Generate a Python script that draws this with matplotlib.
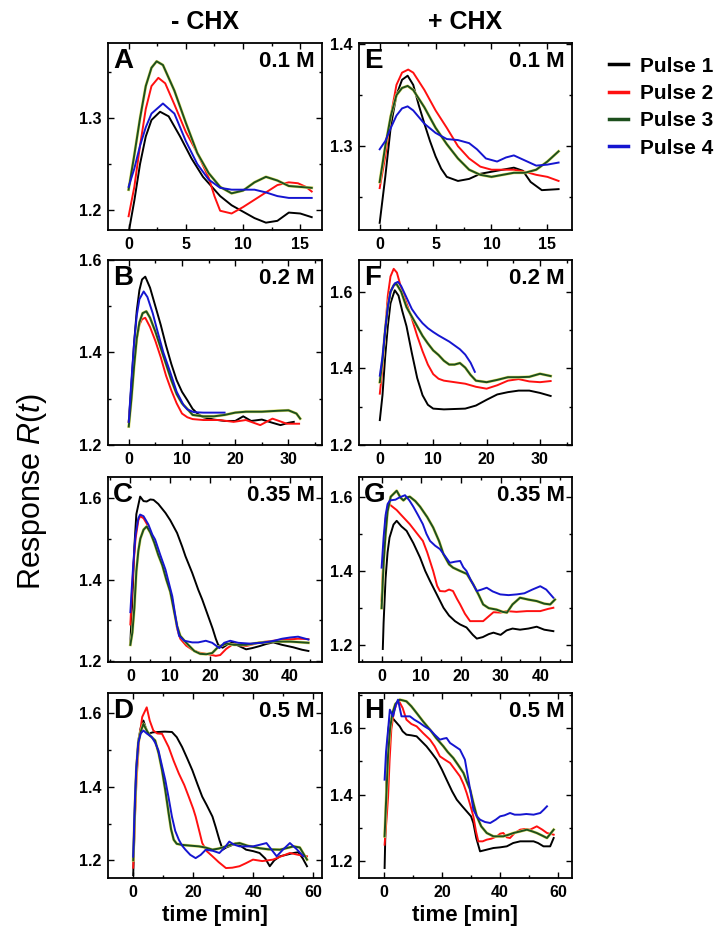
import matplotlib.pyplot as plt
import matplotlib.patheffects as pe
from matplotlib.ticker import AutoMinorLocator

plt.rcParams['font.family'] = ['Liberation Sans', 'DejaVu Sans']
plt.rcParams['mathtext.fontset'] = 'custom'
plt.rcParams['mathtext.it'] = 'Liberation Sans:italic'
plt.rcParams['mathtext.rm'] = 'Liberation Sans'

PULSES = ['Pulse 1', 'Pulse 2', 'Pulse 3', 'Pulse 4']
COLORS = ['#000000', '#ff1010', '#1d4f1d', '#1515d0']

# (time [min], response) per pulse, -CHX column
A_P1 = [(0, 1.175), (0.5, 1.21), (1, 1.25), (1.5, 1.28), (2, 1.298), (2.75, 1.307), (3.5, 1.302), (4.5, 1.28),
        (5.5, 1.256), (6.5, 1.236), (8, 1.215), (9, 1.205), (10, 1.198), (11, 1.191), (12, 1.186), (13, 1.188),
        (14, 1.197), (15, 1.196), (16, 1.192)]
A_P2 = [(0, 1.193), (0.5, 1.225), (1, 1.27), (1.5, 1.31), (2, 1.335), (2.6, 1.344), (3.2, 1.338), (4, 1.315),
        (5, 1.285), (6, 1.262), (7, 1.235), (7.5, 1.215), (8, 1.199), (9, 1.196), (10, 1.203), (11, 1.211),
        (12, 1.219), (13, 1.227), (14, 1.23), (14.8, 1.229), (15.5, 1.225), (16, 1.22)]
A_P3 = [(0, 1.222), (0.5, 1.26), (1, 1.3), (1.5, 1.335), (2, 1.355), (2.45, 1.362), (3, 1.358), (4, 1.33),
        (5, 1.295), (6, 1.262), (7, 1.24), (8, 1.225), (9, 1.218), (10, 1.221), (11, 1.23), (12, 1.236),
        (13, 1.232), (14, 1.226), (15, 1.225), (16, 1.224)]
A_P4 = [(0, 1.225), (0.5, 1.245), (1, 1.27), (1.5, 1.29), (2, 1.305), (3, 1.316), (4, 1.305), (5, 1.275),
        (6, 1.25), (7, 1.233), (8, 1.224), (9, 1.222), (10, 1.222), (11, 1.222), (12, 1.219), (13, 1.215),
        (14, 1.213), (16, 1.213)]

B_P1 = [(0, 1.25), (0.5, 1.33), (1, 1.42), (1.5, 1.49), (2, 1.535), (2.5, 1.558), (3.1, 1.564), (4, 1.54),
        (5, 1.5), (6, 1.46), (7, 1.415), (8, 1.375), (9, 1.34), (10, 1.315), (11, 1.297), (12, 1.278),
        (13, 1.267), (14, 1.26), (16, 1.255), (18, 1.252), (20, 1.252), (21.5, 1.262), (23, 1.252),
        (25, 1.255), (27, 1.248), (28.5, 1.243), (30, 1.248), (31, 1.25)]
B_P2 = [(0, 1.25), (0.5, 1.31), (1, 1.38), (1.5, 1.43), (2, 1.46), (2.5, 1.472), (3.1, 1.475), (4, 1.455),
        (5, 1.425), (6, 1.39), (7, 1.35), (8, 1.318), (9, 1.29), (10, 1.268), (11, 1.26), (12, 1.256),
        (14, 1.254), (17, 1.254), (19.7, 1.25), (22, 1.254), (24.7, 1.243), (27, 1.257), (29.7, 1.246),
        (32, 1.246)]
B_P3 = [(0, 1.24), (0.5, 1.3), (1, 1.37), (1.5, 1.43), (2, 1.465), (2.6, 1.485), (3.3, 1.489), (4, 1.475),
        (5, 1.445), (6, 1.41), (7, 1.375), (8, 1.34), (9, 1.31), (10, 1.29), (11, 1.278), (12, 1.265),
        (14, 1.262), (16, 1.262), (18, 1.265), (20, 1.27), (22, 1.272), (25, 1.272), (28, 1.274), (30, 1.275),
        (31.5, 1.268), (32.2, 1.257)]
B_P4 = [(0, 1.25), (0.5, 1.34), (1, 1.42), (1.5, 1.48), (2, 1.515), (2.8, 1.532), (3.5, 1.52), (4.5, 1.485),
        (5.3, 1.45), (6.5, 1.4), (7.8, 1.357), (9, 1.315), (10.3, 1.286), (11, 1.277), (12.2, 1.271),
        (14, 1.27), (16, 1.27), (18, 1.27)]

C_P1 = [(0, 1.245), (0.5, 1.35), (1, 1.48), (1.5, 1.56), (2.45, 1.603), (3.3, 1.592), (4.1, 1.591), (5, 1.596),
        (5.8, 1.595), (7, 1.585), (8.8, 1.563), (10, 1.545), (11.7, 1.514), (13, 1.48), (13.8, 1.457),
        (15.5, 1.416), (17, 1.375), (18, 1.351), (19.5, 1.31), (20.6, 1.28), (21.4, 1.255), (22, 1.24),
        (23.1, 1.233), (24.5, 1.242), (25.6, 1.246), (27, 1.238), (29, 1.229), (30.5, 1.232), (32.4, 1.237),
        (34, 1.242), (35.8, 1.246), (38, 1.24), (40.8, 1.234), (43, 1.228), (44.6, 1.225)]
C_P2 = [(0, 1.29), (0.3, 1.35), (0.75, 1.43), (1.3, 1.5), (2, 1.545), (2.45, 1.555), (3.3, 1.55), (4.5, 1.53),
        (5.5, 1.505), (6.2, 1.49), (7.5, 1.455), (8.8, 1.415), (10, 1.37), (10.5, 1.35), (11.2, 1.31),
        (11.7, 1.28), (12.5, 1.255), (14, 1.238), (15.5, 1.228), (17.2, 1.221), (19, 1.218), (21.4, 1.213),
        (22.5, 1.215), (24, 1.23), (25.6, 1.241), (27, 1.24), (29, 1.237), (31, 1.242), (32.4, 1.246),
        (34, 1.248), (35.8, 1.25), (38, 1.253), (40.8, 1.254), (42, 1.255), (44.6, 1.254)]
C_P3 = [(0, 1.24), (0.5, 1.27), (1, 1.33), (1.5, 1.42), (2, 1.47), (2.5, 1.5), (3.3, 1.522), (4.1, 1.53),
        (5, 1.515), (6, 1.49), (7, 1.46), (8, 1.435), (9, 1.4), (10, 1.37), (11, 1.32), (11.7, 1.286),
        (12.5, 1.262), (14, 1.245), (16, 1.225), (17.5, 1.218), (19, 1.217), (20.5, 1.22), (22, 1.235),
        (24, 1.243), (26, 1.24), (29, 1.24), (32, 1.245), (36, 1.248), (40, 1.248), (44.6, 1.245)]
C_P4 = [(0, 1.32), (0.3, 1.37), (0.75, 1.441), (1.3, 1.51), (2, 1.55), (2.45, 1.559), (3.3, 1.555), (4.5, 1.535),
        (5.5, 1.51), (6.2, 1.498), (7.5, 1.46), (8.8, 1.424), (10, 1.378), (10.5, 1.359), (11.2, 1.315),
        (11.7, 1.286), (12.2, 1.262), (13.5, 1.25), (15.5, 1.246), (17, 1.246), (18.9, 1.25), (20.5, 1.245),
        (22.3, 1.232), (23.5, 1.245), (25, 1.25), (27, 1.245), (30, 1.243), (33, 1.245), (36, 1.25),
        (38, 1.255), (40, 1.258), (42, 1.26), (44.6, 1.253)]

D_P1 = [(0, 1.16), (0.5, 1.3), (1, 1.45), (1.7, 1.526), (2.5, 1.56), (3.4, 1.58), (4.2, 1.56), (5, 1.544),
        (6.5, 1.548), (8.4, 1.549), (10.5, 1.55), (12.9, 1.549), (14.5, 1.535), (16.3, 1.508), (18, 1.477),
        (19.7, 1.445), (21.5, 1.405), (23, 1.373), (24.5, 1.35), (26.4, 1.319), (27.5, 1.29), (28.7, 1.256),
        (29.8, 1.229), (31, 1.235), (32.5, 1.24), (34.3, 1.247), (36, 1.238), (37.6, 1.229), (40, 1.225),
        (42.1, 1.22), (44, 1.205), (45.5, 1.184), (47, 1.2), (48.9, 1.211), (51, 1.215), (53.4, 1.22),
        (55, 1.222), (56.5, 1.205), (57.9, 1.184)]
D_P2 = [(0, 1.18), (0.5, 1.3), (1.1, 1.418), (2, 1.53), (3, 1.59), (4.5, 1.616), (5.5, 1.58), (6.7, 1.553),
        (8, 1.545), (9.6, 1.544), (11.8, 1.508), (13.5, 1.47), (15.2, 1.436), (17, 1.405), (18.5, 1.373),
        (20, 1.34), (20.8, 1.319), (22, 1.28), (23, 1.247), (24.5, 1.225), (26.4, 1.211), (28.5, 1.195),
        (30.9, 1.179), (33, 1.18), (35.4, 1.184), (37.5, 1.192), (39.9, 1.202), (43, 1.198), (46.6, 1.202),
        (49, 1.21), (52.2, 1.22), (55, 1.215), (57.9, 1.211)]
D_P3 = [(0, 1.2), (0.5, 1.33), (1, 1.44), (1.7, 1.52), (2.5, 1.55), (3.4, 1.571), (4.5, 1.553), (5.5, 1.54),
        (7.3, 1.526), (8.5, 1.49), (9.6, 1.445), (10.7, 1.39), (11.8, 1.328), (12.6, 1.285), (13.5, 1.256),
        (14.5, 1.245), (16.3, 1.242), (19, 1.24), (21.9, 1.238), (24, 1.235), (26.4, 1.229), (28.5, 1.232),
        (30.9, 1.238), (33, 1.244), (35.4, 1.247), (38, 1.24), (42.1, 1.233), (45, 1.23), (48.9, 1.229),
        (51, 1.233), (53.4, 1.238), (55.5, 1.235), (57.9, 1.202)]
D_P4 = [(0, 1.21), (0.5, 1.35), (1, 1.45), (1.7, 1.52), (2.5, 1.545), (3.4, 1.553), (4.5, 1.545), (6.2, 1.535),
        (7.3, 1.52), (8.4, 1.499), (9.5, 1.46), (10.7, 1.418), (11.8, 1.37), (12.9, 1.319), (14, 1.28),
        (15.2, 1.256), (16.3, 1.24), (17.4, 1.229), (19, 1.215), (20.8, 1.206), (22.5, 1.215), (24.2, 1.229),
        (26.5, 1.226), (28.7, 1.22), (30.5, 1.235), (32, 1.251), (33.5, 1.243), (35.4, 1.238), (37.5, 1.238),
        (39.9, 1.238), (42, 1.242), (44.4, 1.247), (46, 1.23), (47.8, 1.211), (50, 1.23), (52.2, 1.247),
        (54.5, 1.23), (56.7, 1.211)]

# +CHX column
E_P1 = [(0, 1.225), (0.5, 1.27), (1, 1.32), (1.5, 1.35), (2, 1.365), (2.5, 1.369), (3, 1.36), (3.5, 1.34),
        (4, 1.322), (4.5, 1.305), (5, 1.29), (5.5, 1.278), (6, 1.27), (7, 1.266), (8, 1.268), (9, 1.273),
        (10, 1.275), (11, 1.277), (12, 1.279), (12.8, 1.276), (13.5, 1.265), (14.5, 1.257), (16, 1.258)]
E_P2 = [(0, 1.259), (0.5, 1.29), (1, 1.33), (1.5, 1.36), (2, 1.372), (2.55, 1.375), (3, 1.372), (4, 1.355),
        (5, 1.335), (6, 1.318), (7, 1.3), (8, 1.288), (9, 1.28), (10, 1.277), (12, 1.277), (13, 1.275),
        (14, 1.272), (15, 1.27), (16, 1.266)]
E_P3 = [(0, 1.265), (0.5, 1.3), (1, 1.33), (1.5, 1.35), (2, 1.357), (2.5, 1.359), (3, 1.355), (4, 1.338),
        (5, 1.318), (6, 1.302), (7, 1.288), (8, 1.277), (9, 1.272), (10, 1.27), (11, 1.272), (12, 1.274),
        (13, 1.274), (14, 1.277), (15, 1.285), (16, 1.295)]
E_P4 = [(0, 1.297), (0.5, 1.305), (1, 1.318), (1.5, 1.33), (2, 1.337), (2.5, 1.339), (3, 1.335), (4, 1.322),
        (5, 1.313), (6, 1.307), (7, 1.306), (8, 1.303), (8.7, 1.297), (9.5, 1.288), (10.5, 1.285),
        (11.3, 1.289), (12, 1.291), (13, 1.286), (14, 1.281), (15, 1.282), (16, 1.284)]

F_P1 = [(0, 1.265), (0.5, 1.33), (1, 1.43), (1.5, 1.51), (2, 1.57), (2.8, 1.604), (3.5, 1.59), (4.2, 1.55),
        (5, 1.51), (6, 1.44), (7, 1.375), (8, 1.33), (9, 1.305), (10, 1.295), (12, 1.293), (14, 1.294),
        (16, 1.295), (18, 1.303), (20, 1.318), (22, 1.332), (24, 1.338), (26, 1.342), (28, 1.342), (30, 1.336),
        (32, 1.328)]
F_P2 = [(0, 1.334), (0.5, 1.4), (1, 1.5), (1.5, 1.59), (2, 1.64), (2.6, 1.66), (3.2, 1.65), (4, 1.61),
        (5, 1.57), (6, 1.53), (7, 1.485), (8, 1.445), (9, 1.41), (10, 1.385), (11, 1.373), (12, 1.368),
        (14, 1.364), (16, 1.36), (18, 1.352), (20, 1.347), (22, 1.356), (24, 1.368), (26, 1.372), (28, 1.366),
        (30, 1.364), (32, 1.367)]
F_P3 = [(0, 1.364), (0.5, 1.42), (1, 1.5), (1.5, 1.56), (2, 1.6), (2.6, 1.617), (3.1, 1.621), (4, 1.6),
        (5, 1.56), (6, 1.535), (7, 1.51), (8, 1.485), (9, 1.465), (10, 1.447), (11, 1.435), (12, 1.42),
        (13, 1.41), (14, 1.41), (15, 1.414), (16, 1.402), (17, 1.383), (18, 1.368), (20, 1.364), (22, 1.37),
        (24, 1.377), (26, 1.377), (28, 1.378), (30, 1.386), (32, 1.38)]
F_P4 = [(0, 1.381), (0.5, 1.43), (1, 1.5), (1.5, 1.56), (2, 1.6), (2.8, 1.622), (3.4, 1.626), (4, 1.615),
        (5, 1.585), (6, 1.555), (7, 1.535), (8, 1.518), (9, 1.505), (10, 1.495), (11, 1.486), (12, 1.478),
        (13, 1.47), (14, 1.46), (15, 1.45), (16, 1.436), (17, 1.415), (17.8, 1.391)]

G_P1 = [(0.3, 1.19), (0.5, 1.26), (1, 1.38), (1.5, 1.45), (2, 1.49), (3, 1.525), (3.8, 1.535), (5, 1.52),
        (6.3, 1.508), (8, 1.475), (9.7, 1.436), (11, 1.4), (12.2, 1.373), (14, 1.335), (15.6, 1.301),
        (17, 1.28), (18.5, 1.265), (19.8, 1.256), (21.4, 1.248), (23, 1.228), (24, 1.218), (25.5, 1.222),
        (27, 1.23), (28.2, 1.234), (30, 1.228), (31.5, 1.24), (33, 1.245), (34.9, 1.242), (37, 1.245),
        (39.1, 1.25), (41, 1.242), (43.3, 1.238)]
G_P2 = [(0, 1.32), (0.5, 1.45), (1, 1.54), (1.7, 1.582), (2.5, 1.575), (3.8, 1.564), (5, 1.55), (7.1, 1.526),
        (9, 1.5), (10.4, 1.481), (11.5, 1.45), (13, 1.4), (14, 1.36), (14.7, 1.346), (16, 1.345), (17, 1.35),
        (18, 1.346), (19, 1.325), (19.8, 1.31), (21, 1.285), (22.3, 1.265), (24, 1.265), (25.6, 1.265),
        (27, 1.278), (28.2, 1.289), (30, 1.288), (31.6, 1.292), (34, 1.29), (36.6, 1.292), (40, 1.292),
        (42, 1.298), (43.3, 1.301)]
G_P3 = [(0, 1.3), (0.5, 1.42), (1, 1.5), (1.5, 1.56), (2.3, 1.6), (3.8, 1.616), (4.8, 1.597), (5.5, 1.59),
        (6.3, 1.598), (7.1, 1.6), (8.5, 1.588), (9.7, 1.573), (11.5, 1.545), (13, 1.517), (14.5, 1.48),
        (15.6, 1.445), (17, 1.418), (18, 1.409), (19.8, 1.4), (21.5, 1.392), (23.1, 1.364), (24.5, 1.335),
        (25.6, 1.31), (27, 1.3), (29, 1.296), (30.5, 1.29), (31.6, 1.288), (33, 1.31), (34.9, 1.328),
        (37, 1.323), (39.1, 1.319), (41, 1.312), (42.5, 1.31), (43.7, 1.323)]
G_P4 = [(0, 1.409), (0.5, 1.49), (1, 1.55), (1.5, 1.58), (2.1, 1.59), (3.5, 1.592), (4.5, 1.598), (5.9, 1.604),
        (7, 1.59), (8, 1.573), (9.2, 1.55), (10.4, 1.526), (11.3, 1.5), (12.2, 1.481), (13.5, 1.468),
        (14.7, 1.459), (16, 1.44), (17.2, 1.422), (18.5, 1.425), (19.8, 1.427), (20.6, 1.41), (21.4, 1.4),
        (22.5, 1.375), (24, 1.346), (25.2, 1.35), (26.5, 1.355), (28, 1.345), (29.9, 1.337), (32, 1.335),
        (34.1, 1.337), (36, 1.34), (38, 1.35), (40, 1.359), (41.5, 1.35), (43.3, 1.328)]

H_P1 = [(0.3, 1.18), (0.6, 1.3), (0.9, 1.445), (1.5, 1.59), (2.1, 1.625), (3, 1.63), (4, 1.62), (5.5, 1.605),
        (6.5, 1.59), (7.8, 1.58), (9.5, 1.578), (11.3, 1.575), (13, 1.56), (14.7, 1.545), (16.5, 1.525),
        (18.2, 1.505), (20, 1.475), (21.6, 1.445), (23.5, 1.41), (25.1, 1.385), (27, 1.365), (28.5, 1.35),
        (30, 1.335), (30.8, 1.315), (31.8, 1.27), (33.1, 1.23), (35.4, 1.235), (37.7, 1.24), (40, 1.242),
        (42.3, 1.245), (44.5, 1.255), (46.9, 1.26), (49, 1.26), (51.5, 1.26), (53, 1.255), (54.9, 1.245),
        (57.2, 1.245), (58.4, 1.27)]
H_P2 = [(0.3, 1.25), (1, 1.33), (1.5, 1.395), (2, 1.5), (2.6, 1.595), (3.5, 1.65), (4.5, 1.675), (5.3, 1.68),
        (6.5, 1.66), (7.8, 1.625), (9.5, 1.612), (11.3, 1.605), (13.5, 1.585), (15.9, 1.565), (17.5, 1.545),
        (19.3, 1.515), (21, 1.505), (22.8, 1.495), (24.5, 1.475), (26.2, 1.455), (27.5, 1.43), (28.5, 1.405),
        (29.7, 1.37), (30.8, 1.335), (31.7, 1.29), (32.5, 1.26), (34, 1.26), (35.4, 1.265), (37, 1.268),
        (38.9, 1.275), (40, 1.283), (41.1, 1.285), (42.3, 1.272), (43.4, 1.27), (45, 1.285), (46.9, 1.295),
        (48.5, 1.297), (50.3, 1.295), (52.6, 1.305), (54.5, 1.295), (56.1, 1.285), (58.4, 1.28)]
H_P3 = [(0.3, 1.275), (1, 1.42), (1.5, 1.52), (2.2, 1.6), (3, 1.645), (4, 1.672), (5.5, 1.685), (6.5, 1.683),
        (7.8, 1.68), (9.5, 1.665), (11.3, 1.645), (13.5, 1.62), (15.9, 1.595), (18, 1.57), (20.5, 1.545),
        (22, 1.528), (23.9, 1.51), (25.5, 1.49), (27.4, 1.465), (28.5, 1.44), (29.7, 1.415), (30.8, 1.375),
        (32, 1.335), (33.5, 1.305), (35.4, 1.285), (37.7, 1.275), (39.5, 1.275), (41.1, 1.275), (43, 1.28),
        (44.6, 1.285), (47, 1.29), (49.2, 1.295), (51, 1.29), (52.6, 1.285), (54.5, 1.277), (56.1, 1.27),
        (58.4, 1.295)]
H_P4 = [(0.3, 1.445), (0.8, 1.53), (1.5, 1.595), (2.1, 1.655), (3.2, 1.635), (4.2, 1.67), (4.9, 1.685),
        (5.5, 1.66), (6.1, 1.635), (7.5, 1.635), (9, 1.635), (10.5, 1.625), (12.4, 1.615), (14, 1.605),
        (15.9, 1.595), (17.5, 1.58), (19.3, 1.565), (20.5, 1.568), (21.6, 1.57), (22.8, 1.555), (24.5, 1.545),
        (26.2, 1.535), (27.9, 1.505), (29.1, 1.445), (30, 1.4), (30.8, 1.355), (32, 1.335), (33.1, 1.325),
        (34.8, 1.318), (36.6, 1.315), (38.5, 1.325), (40, 1.335), (41.5, 1.338), (43.4, 1.345), (45, 1.34),
        (46.9, 1.34), (49, 1.342), (51.5, 1.34), (53.8, 1.345), (55, 1.355), (56.1, 1.365)]

LETTERS = ['A', 'B', 'C', 'D', 'E', 'F', 'G', 'H']
CONCS = ['0.1 M', '0.2 M', '0.35 M', '0.5 M'] * 2
XLIMS = [(-1.8, 16.9), (-3.9, 36.3), (-5.6, 48), (-8.4, 62.9),
         (-1.85, 17.2), (-3.9, 36), (-5.7, 48), (-8.5, 64.7)]
YLIMS = [(1.178, 1.382), (1.2, 1.6), (1.198, 1.651), (1.152, 1.655),
         (1.218, 1.401), (1.2, 1.683), (1.155, 1.653), (1.15, 1.705)]
XTICKS = [[0, 5, 10, 15], [0, 10, 20, 30], [0, 10, 20, 30, 40], [0, 20, 40, 60]] * 2
YTICKS = [[1.2, 1.3], [1.2, 1.4, 1.6], [1.2, 1.4, 1.6], [1.2, 1.4, 1.6],
          [1.3, 1.4], [1.2, 1.4, 1.6], [1.2, 1.4, 1.6], [1.2, 1.4, 1.6]]
SERIES = [[A_P1, A_P2, A_P3, A_P4], [B_P1, B_P2, B_P3, B_P4], [C_P1, C_P2, C_P3, C_P4], [D_P1, D_P2, D_P3, D_P4],
          [E_P1, E_P2, E_P3, E_P4], [F_P1, F_P2, F_P3, F_P4], [G_P1, G_P2, G_P3, G_P4], [H_P1, H_P2, H_P3, H_P4]]

fig = plt.figure(figsize=(7.18, 9.38), dpi=100)
W, H = 718, 938
col_x = [(108, 322), (359, 572)]
row_y = [(43, 230), (260, 445), (477, 662), (693, 878)]

handles = []
for i in range(8):
    cx0, cx1 = col_x[i // 4]
    ry0, ry1 = row_y[i % 4]
    ax = fig.add_axes([cx0 / W, 1 - ry1 / H, (cx1 - cx0) / W, (ry1 - ry0) / H])
    for j, (s, c) in enumerate(zip(SERIES[i], COLORS)):
        t = [p[0] for p in s]
        r = [p[1] for p in s]
        kw = {}
        if j == 2:
            # the green trace carries a faint yellow rim
            kw['path_effects'] = [pe.Stroke(linewidth=2.1, foreground='#e2e270'), pe.Normal()]
        ln, = ax.plot(t, r, color=c, lw=1.4, label=PULSES[j], **kw)
        if i == 0:
            handles.append(ln)
    ax.set_xlim(*XLIMS[i])
    ax.set_ylim(*YLIMS[i])
    ax.set_xticks(XTICKS[i])
    ax.set_yticks(YTICKS[i])
    ax.set_yticklabels([f'{v:.1f}' for v in YTICKS[i]])
    ax.xaxis.set_minor_locator(AutoMinorLocator(2))
    ax.yaxis.set_minor_locator(AutoMinorLocator(2))
    ax.tick_params(which='both', direction='in', top=True, right=True, width=1)
    ax.tick_params(which='major', length=4, labelsize=11.5, pad=5)
    ax.tick_params(which='minor', length=2.5)
    for lab in ax.get_xticklabels() + ax.get_yticklabels():
        lab.set_fontweight('bold')
    for sp in ax.spines.values():
        sp.set_linewidth(1.3)
    ax.text(0.025, 0.975, LETTERS[i], transform=ax.transAxes, ha='left', va='top',
            fontsize=20, fontweight='bold')
    ax.text(0.965, 0.955, CONCS[i], transform=ax.transAxes, ha='right', va='top',
            fontsize=16, fontweight='bold')

fig.text(205 / W, 1 - 22 / H, '- CHX', ha='center', va='center', fontsize=18, fontweight='bold')
fig.text(465 / W, 1 - 22 / H, '+ CHX', ha='center', va='center', fontsize=18, fontweight='bold')
fig.text(32 / W, 1 - 492 / H, 'Response $R(t)$', rotation=90, ha='center', va='center', fontsize=22)
fig.text(215 / W, 1 - 915 / H, 'time [min]', ha='center', va='center', fontsize=16, fontweight='bold')
fig.text(465 / W, 1 - 915 / H, 'time [min]', ha='center', va='center', fontsize=16, fontweight='bold')

leg = fig.legend(handles, PULSES, loc='upper left', bbox_to_anchor=(590 / W, 1 - 38 / H),
                 frameon=False, handlelength=0.9, handletextpad=0.6, labelspacing=0.4,
                 prop={'weight': 'bold', 'size': 15})
for ln in leg.get_lines():
    ln.set_linewidth(2.5)

fig.savefig('out.png', dpi=100)
